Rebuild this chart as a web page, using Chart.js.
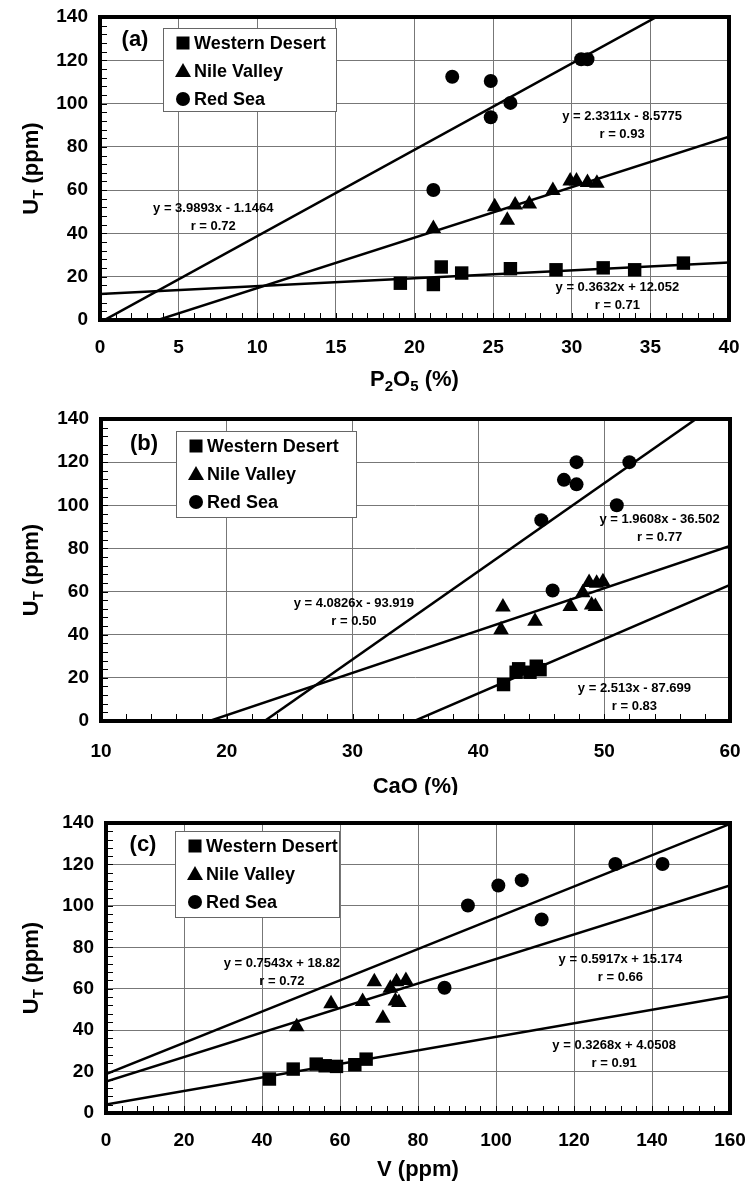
<!DOCTYPE html>
<html>
<head>
<meta charset="utf-8">
<title>UT vs P2O5, CaO and V</title>
<script src="https://cdn.jsdelivr.net/npm/chart.js@4/dist/chart.umd.min.js"></script>
<style>
  body { margin: 0; background: #fff; }
  .panel { position: absolute; left: 0; }
</style>
</head>
<body>
<canvas id="chartA" class="panel" style="top:0px" width="745" height="395"></canvas>
<canvas id="chartB" class="panel" style="top:395px" width="745" height="400"></canvas>
<canvas id="chartC" class="panel" style="top:795px" width="745" height="388"></canvas>

<script>
// series names (legend order)
const seriesNames = ['Western Desert', 'Nile Valley', 'Red Sea'];

// ---- (a) UT vs P2O5
const aWestX = [19.1, 21.2, 21.7, 23.0, 26.1, 29.0, 32.0, 34.0, 37.1];
const aWestY = [17.0, 16.4, 24.5, 21.7, 23.7, 23.2, 24.1, 23.2, 26.3];
const aNileX = [21.2, 25.1, 25.9, 26.4, 27.3, 28.8, 29.9, 30.3, 31.0, 31.6];
const aNileY = [42.3, 52.3, 46.1, 53.1, 53.6, 59.8, 64.2, 64.2, 63.5, 63.2];
const aRedX = [22.4, 24.85, 24.85, 26.1, 21.2, 30.6, 31.0];
const aRedY = [112.4, 110.4, 93.7, 100.3, 60.1, 120.5, 120.5];
const aSlopes = [0.3632, 2.3311, 3.9893];
const aIntercepts = [12.052, -8.5775, -1.1464];
const aEquations = ['y = 0.3632x + 12.052', 'y = 2.3311x - 8.5775', 'y = 3.9893x - 1.1464'];
const aR = ['r = 0.71', 'r = 0.93', 'r = 0.72'];

// ---- (b) UT vs CaO
const bWestX = [42.0, 43.0, 43.2, 44.1, 44.6, 44.9];
const bWestY = [16.9, 22.6, 24.2, 22.6, 25.4, 23.8];
const bNileX = [41.95, 41.8, 44.5, 47.3, 48.3, 48.8, 49.4, 49.9, 49.0, 49.3];
const bNileY = [52.8, 42.3, 46.2, 53.1, 59.5, 64.2, 63.8, 64.6, 53.8, 53.1];
const bRedX = [47.8, 52.0, 46.8, 47.8, 51.0, 45.0, 45.9];
const bRedY = [120.0, 120.0, 111.8, 109.7, 100.0, 93.1, 60.5];
const bSlopes = [2.513, 1.9608, 4.0826];
const bIntercepts = [-87.699, -36.502, -93.919];
const bEquations = ['y = 2.513x - 87.699', 'y = 1.9608x - 36.502', 'y = 4.0826x - 93.919'];
const bR = ['r = 0.83', 'r = 0.77', 'r = 0.50'];

// ---- (c) UT vs V
const cWestX = [41.9, 48.0, 53.9, 56.2, 59.1, 63.8, 66.7];
const cWestY = [16.4, 21.2, 23.6, 22.8, 22.5, 23.3, 26.0];
const cNileX = [48.9, 57.7, 65.8, 68.8, 71.0, 72.9, 74.5, 76.9, 74.2, 75.1];
const cNileY = [41.6, 52.8, 53.8, 63.4, 45.7, 60.2, 63.4, 64.0, 54.1, 53.3];
const cRedX = [130.6, 142.7, 100.6, 106.6, 92.8, 111.7, 86.8];
const cRedY = [120.2, 120.2, 109.8, 112.4, 100.2, 93.4, 60.5];
const cSlopes = [0.3268, 0.5917, 0.7543];
const cIntercepts = [4.0508, 15.174, 18.82];
const cEquations = ['y = 0.3268x + 4.0508', 'y = 0.5917x + 15.174', 'y = 0.7543x + 18.82'];
const cR = ['r = 0.91', 'r = 0.66', 'r = 0.72'];

const W = 745;
const FONT = '"Liberation Sans", Arial, Helvetica, sans-serif';
const styles = ['rect', 'triangle', 'circle'];
const radii = [9.5, 9, 7];
const yTitle = [{ t: 'U' }, { t: 'T', sub: true }, { t: ' (ppm)' }];

// text with subscripts, centred on (cx, cy)
function drawRich(ctx, parts, cx, cy, size, rot) {
  const sub = Math.round(size * 0.68);
  ctx.save();
  ctx.translate(cx, cy);
  if (rot) ctx.rotate(rot);
  ctx.fillStyle = '#000';
  ctx.textAlign = 'left';
  ctx.textBaseline = 'alphabetic';
  let w = 0;
  parts.forEach(p => {
    ctx.font = 'bold ' + (p.sub ? sub : size) + 'px ' + FONT;
    p.w = ctx.measureText(p.t).width;
    w += p.w;
  });
  let x = -w / 2;
  const base = size * 0.36;
  parts.forEach(p => {
    ctx.font = 'bold ' + (p.sub ? sub : size) + 'px ' + FONT;
    ctx.fillText(p.t, x, p.sub ? base + size * 0.22 : base);
    x += p.w;
  });
  ctx.restore();
}

function marker(ctx, style, x, y) {
  ctx.beginPath();
  if (style === 'rect') {
    ctx.rect(x - 6.5, y - 6.5, 13, 13);
  } else if (style === 'triangle') {
    ctx.moveTo(x, y - 8);
    ctx.lineTo(x + 8, y + 6);
    ctx.lineTo(x - 8, y + 6);
    ctx.closePath();
  } else {
    ctx.arc(x, y, 7, 0, Math.PI * 2);
  }
  ctx.fill();
}

function makePanel(id, p) {
  const canvas = document.getElementById(id);
  const H = canvas.height;
  const datasets = [];
  p.xs.forEach((xs, k) => {
    datasets.push({
      label: seriesNames[k],
      data: xs.map((x, i) => ({ x: x, y: p.ys[k][i] })),
      pointStyle: styles[k],
      pointRadius: radii[k],
      pointHoverRadius: radii[k],
      backgroundColor: '#000',
      borderColor: '#000',
      borderWidth: 0
    });
  });
  p.slopes.forEach((m, k) => {
    datasets.push({
      label: p.equations[k],
      data: [{ x: p.xMin, y: m * p.xMin + p.intercepts[k] },
             { x: p.xMax, y: m * p.xMax + p.intercepts[k] }],
      showLine: true,
      borderColor: '#000',
      borderWidth: 2.5,
      pointRadius: 0,
      fill: false
    });
  });

  const decor = {
    id: 'decor',
    afterDraw(chart) {
      const ctx = chart.ctx, a = chart.chartArea;
      const sx = chart.scales.x, sy = chart.scales.y;
      ctx.save();

      // equation notes
      ctx.fillStyle = '#000';
      ctx.textAlign = 'center';
      ctx.textBaseline = 'middle';
      ctx.font = 'bold 13px ' + FONT;
      p.notes.forEach((n, k) => {
        const px = sx.getPixelForValue(n[0]), py = sy.getPixelForValue(n[1]);
        ctx.fillText(p.equations[k], px, py);
        ctx.fillText(p.rs[k], px, py + 18);
      });

      // legend box
      const L = p.legend;
      const bx = a.left + L.x, by = a.top + L.y;
      ctx.fillStyle = '#fff';
      ctx.fillRect(bx, by, L.w, L.h);
      ctx.strokeStyle = '#666';
      ctx.lineWidth = 1;
      ctx.strokeRect(bx + 0.5, by + 0.5, L.w, L.h);
      ctx.textAlign = 'left';
      ctx.font = 'bold 18px ' + FONT;
      seriesNames.forEach((name, k) => {
        const ry = by + 15 + k * 28;
        ctx.fillStyle = '#000';
        marker(ctx, styles[k], bx + 20, ry);
        ctx.fillText(name, bx + 31, ry + 1);
      });

      // panel letter
      ctx.textAlign = 'center';
      ctx.font = 'bold 22px ' + FONT;
      ctx.fillText(p.letter, a.left + p.letterPos[0], a.top + p.letterPos[1]);

      // minor ticks
      ctx.strokeStyle = '#000';
      ctx.lineWidth = 1;
      ctx.beginPath();
      const nx = Math.round((p.xMax - p.xMin) / p.xMinor);
      for (let i = 0; i <= nx; i++) {
        const px = Math.round(sx.getPixelForValue(p.xMin + i * p.xMinor)) + 0.5;
        ctx.moveTo(px, a.bottom);
        ctx.lineTo(px, a.bottom - 7);
      }
      for (let i = 0; i <= 35; i++) {
        const py = Math.round(sy.getPixelForValue(i * 4)) + 0.5;
        ctx.moveTo(a.left, py);
        ctx.lineTo(a.left + 7, py);
      }
      ctx.stroke();

      // frame
      ctx.lineWidth = 4;
      ctx.strokeRect(a.left, a.top, a.right - a.left, a.bottom - a.top);
      ctx.restore();

      // axis titles
      drawRich(ctx, yTitle, 30, (a.top + a.bottom) / 2, 22, -Math.PI / 2);
      drawRich(ctx, p.xTitle, (a.left + a.right) / 2, p.xTitleY, 22, 0);
    }
  };

  const tickFont = { size: 19, weight: 'bold', family: FONT };
  return new Chart(canvas, {
    type: 'scatter',
    data: { datasets: datasets },
    options: {
      responsive: false,
      animation: false,
      events: [],
      layout: { padding: { top: p.area.top, right: W - p.area.right, left: 0, bottom: 0 } },
      plugins: { legend: { display: false }, tooltip: { enabled: false } },
      scales: {
        x: {
          type: 'linear', min: p.xMin, max: p.xMax,
          ticks: { stepSize: p.xStep, padding: p.xPad, font: tickFont, color: '#000', maxRotation: 0, autoSkip: false },
          grid: { color: '#777', lineWidth: 1, drawTicks: false },
          border: { display: false },
          afterFit: s => {
            s.height = H - p.area.bottom;
            s.paddingLeft = 0; s.paddingRight = 0;
          }
        },
        y: {
          type: 'linear', min: 0, max: 140,
          ticks: { stepSize: 20, padding: 12, font: tickFont, color: '#000' },
          grid: { color: '#777', lineWidth: 1, drawTicks: false },
          border: { display: false },
          afterFit: s => {
            s.width = p.area.left;
            s.paddingTop = 0; s.paddingBottom = 0;
          }
        }
      }
    },
    plugins: [decor]
  });
}

makePanel('chartA', {
  xs: [aWestX, aNileX, aRedX], ys: [aWestY, aNileY, aRedY],
  slopes: aSlopes, intercepts: aIntercepts, equations: aEquations, rs: aR,
  notes: [[32.9, 15.2], [33.2, 94.1], [7.2, 51.5]],
  xMin: 0, xMax: 40, xStep: 5, xMinor: 1, xPad: 16,
  area: { left: 100, right: 729, top: 17, bottom: 320 },
  legend: { x: 63, y: 11, w: 173, h: 83 },
  letter: '(a)', letterPos: [35, 23],
  xTitle: [{ t: 'P' }, { t: '2', sub: true }, { t: 'O' }, { t: '5', sub: true }, { t: ' (%)' }],
  xTitleY: 378
});

makePanel('chartB', {
  xs: [bWestX, bNileX, bRedX], ys: [bWestY, bNileY, bRedY],
  slopes: bSlopes, intercepts: bIntercepts, equations: bEquations, rs: bR,
  notes: [[52.4, 14.9], [54.4, 93.4], [30.1, 54.6]],
  xMin: 10, xMax: 60, xStep: 10, xMinor: 2, xPad: 19,
  area: { left: 101, right: 730, top: 24, bottom: 326 },
  legend: { x: 75, y: 12, w: 180, h: 86 },
  letter: '(b)', letterPos: [43, 25],
  xTitle: [{ t: 'CaO (%)' }],
  xTitleY: 390
});

makePanel('chartC', {
  xs: [cWestX, cNileX, cRedX], ys: [cWestY, cNileY, cRedY],
  slopes: cSlopes, intercepts: cIntercepts, equations: cEquations, rs: cR,
  notes: [[130.3, 32.7], [131.9, 74.2], [45.1, 72.4]],
  xMin: 0, xMax: 160, xStep: 20, xMinor: 4, xPad: 16,
  area: { left: 106, right: 730, top: 28, bottom: 318 },
  legend: { x: 69, y: 8, w: 164, h: 86 },
  letter: '(c)', letterPos: [37, 22],
  xTitle: [{ t: 'V (ppm)' }],
  xTitleY: 373
});
</script>
</body>
</html>
